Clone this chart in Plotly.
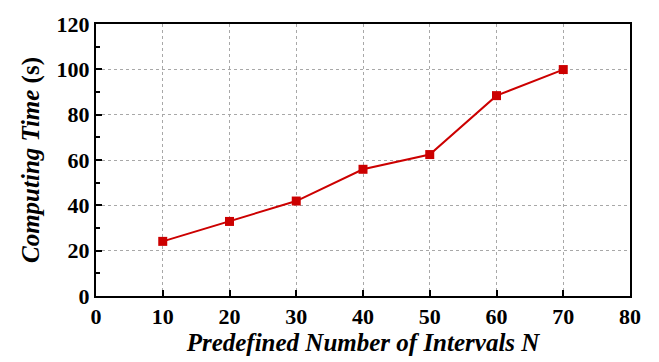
import plotly.graph_objects as go

# Predefined number of intervals and the resulting computing time (s)
intervals_n = [10, 20, 30, 40, 50, 60, 70]
computing_time = [24.1, 32.9, 41.9, 55.9, 62.4, 88.4, 99.9]

x_ticks = [0, 10, 20, 30, 40, 50, 60, 70, 80]
y_ticks = [0, 20, 40, 60, 80, 100, 120]

FONT = "Liberation Serif, Times New Roman, serif"
RED = "#cc0000"

fig = go.Figure()
fig.add_trace(go.Scatter(
    x=intervals_n,
    y=computing_time,
    mode="lines+markers",
    line=dict(color=RED, width=2),
    marker=dict(symbol="square", size=9, color=RED),
    showlegend=False,
))

axis_common = dict(
    showline=True,
    linecolor="black",
    linewidth=2,
    mirror=True,
    ticks="inside",
    ticklen=6,
    tickwidth=2,
    tickcolor="black",
    showgrid=True,
    gridcolor="#a8a8a8",
    gridwidth=1,
    griddash="dot",
    zeroline=False,
    tickfont=dict(family=FONT, size=22, color="black", weight="bold"),
)

fig.update_xaxes(
    range=[0, 80],
    tickvals=x_ticks,
    ticktext=[str(v) for v in x_ticks],
    title=dict(
        text="<b><i>Predefined Number of Intervals N</i></b>",
        font=dict(family=FONT, size=25, color="black"),
        standoff=3,
    ),
    **axis_common,
)
fig.update_yaxes(
    range=[0, 120],
    tickvals=y_ticks,
    ticktext=[str(v) for v in y_ticks],
    minor=dict(ticks="inside", ticklen=4, tickwidth=2, tickcolor="black",
               dtick=10, tick0=0, showgrid=False),
    title=dict(
        text="<b><i>Computing Time</i> (s)</b>",
        font=dict(family=FONT, size=25, color="black"),
        standoff=10,
    ),
    **axis_common,
)

fig.update_layout(
    width=659,
    height=362,
    margin=dict(l=96, r=29, t=15, b=66),
    paper_bgcolor="white",
    plot_bgcolor="white",
    font=dict(family=FONT),
)

fig.write_html("out.html")
